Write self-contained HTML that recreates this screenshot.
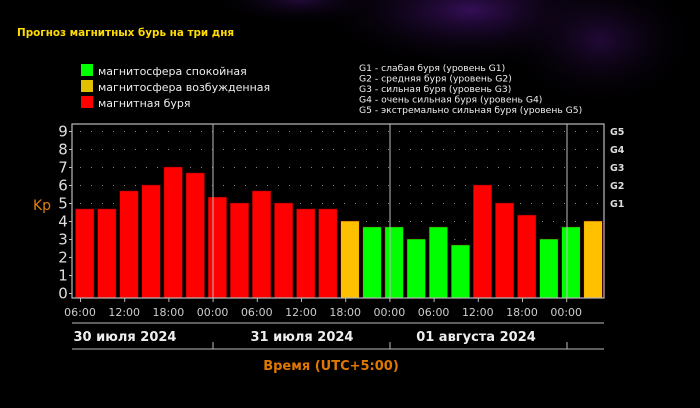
<!DOCTYPE html>
<html><head><meta charset="utf-8"><style>
body{margin:0;width:700px;height:408px;overflow:hidden;background:#000;}
svg{display:block}
text{font-family:"DejaVu Sans","Liberation Sans",sans-serif;}
</style></head><body>
<svg width="700" height="408" viewBox="0 0 700 408" xmlns="http://www.w3.org/2000/svg">
<defs>
<radialGradient id="g1" cx="0.5" cy="0.5" r="0.5"><stop offset="0" stop-color="#3a1060" stop-opacity="0.9"/><stop offset="1" stop-color="#000" stop-opacity="0"/></radialGradient>
<radialGradient id="g2" cx="0.5" cy="0.5" r="0.5"><stop offset="0" stop-color="#2a0c45" stop-opacity="0.8"/><stop offset="1" stop-color="#000" stop-opacity="0"/></radialGradient>
</defs>
<rect width="700" height="408" fill="#000"/>
<ellipse cx="470" cy="10" rx="160" ry="60" fill="url(#g1)"/>
<ellipse cx="600" cy="40" rx="100" ry="70" fill="url(#g2)"/>
<ellipse cx="300" cy="0" rx="90" ry="25" fill="url(#g2)"/>
<text x="17" y="36" font-size="10.4" font-weight="bold" fill="#ffdd00">Прогноз магнитных бурь на три дня</text>
<rect x="81" y="64" width="12" height="12" fill="#00ff00"/>
<rect x="81" y="80" width="12" height="12" fill="#e0c000"/>
<rect x="81" y="96" width="12" height="12" fill="#ff0000"/>
<g font-size="11" fill="#eee">
<text x="98" y="75">магнитосфера спокойная</text>
<text x="98" y="91">магнитосфера возбужденная</text>
<text x="98" y="107">магнитная буря</text>
</g>
<g font-size="9.2" fill="#eee">
<text x="359" y="71">G1 - слабая буря (уровень G1)</text>
<text x="359" y="81.5">G2 - средняя буря (уровень G2)</text>
<text x="359" y="92">G3 - сильная буря (уровень G3)</text>
<text x="359" y="102.5">G4 - очень сильная буря (уровень G4)</text>
<text x="359" y="113">G5 - экстремально сильная буря (уровень G5)</text>
</g>
<g id="grid" fill="#888">
</g>
<g id="bars"></g>
<rect x="72" y="124" width="532" height="174" fill="none" stroke="#bbb" stroke-width="1.2"/>
<line x1="213" y1="124" x2="213" y2="298" stroke="#bbb"/>
<line x1="390" y1="124" x2="390" y2="298" stroke="#bbb"/>
<line x1="567" y1="124" x2="567" y2="298" stroke="#bbb"/>
<g font-size="15" fill="#ddd" text-anchor="middle" id="ylab"></g>
<text x="42" y="210" font-size="14" fill="#e08000" text-anchor="middle">Kp</text>
<g font-size="9.5" font-weight="bold" fill="#ddd">
<text x="610" y="135">G5</text><text x="610" y="153">G4</text><text x="610" y="171">G3</text><text x="610" y="189">G2</text><text x="610" y="207">G1</text>
</g>
<g font-size="11" fill="#ccc" text-anchor="middle" id="xlab"></g>
<line x1="72" y1="323" x2="604" y2="323" stroke="#bbb"/>
<line x1="72" y1="349" x2="604" y2="349" stroke="#bbb"/>
<g stroke="#bbb"><line x1="213" y1="342" x2="213" y2="349"/><line x1="390" y1="342" x2="390" y2="349"/><line x1="567" y1="342" x2="567" y2="349"/></g>
<g font-size="13" font-weight="bold" fill="#eee" text-anchor="middle">
<text x="125" y="341">30 июля 2024</text>
<text x="302" y="341">31 июля 2024</text>
<text x="476" y="341">01 августа 2024</text>
</g>
<text x="331" y="370" font-size="13" font-weight="bold" fill="#e07800" text-anchor="middle">Время (UTC+5:00)</text>
</svg>
<script>
const NS="http://www.w3.org/2000/svg";
function el(p,t,a,txt){const e=document.createElementNS(NS,t);for(const k in a)e.setAttribute(k,a[k]);if(txt)e.textContent=txt;document.getElementById(p).appendChild(e);}
const y0=293,u=18;
for(let v=0;v<=9;v++){const y=y0-v*u;for(let x=80;x<604;x+=11)el("grid","rect",{x:x,y:y,width:1,height:1});
el("ylab","text",{x:63,y:y+5.5},String(v));el("grid","rect",{x:69,y:y,width:3,height:1,fill:"#bbb"});}
const vals=[4.67,4.67,5.67,6,7,6.67,5.33,5,5.67,5,4.67,4.67,4,3.67,3.67,3,3.67,2.67,6,5,4.33,3,3.67,4];
const cols="RRRRRRRRRRRROGGGGGRRRGGO";
const cm={R:"#ff0000",G:"#00ff00",O:"#ffc000"};
vals.forEach((v,i)=>{const x=75.5+22.1*i,h=v*u;el("bars","rect",{x:x,y:293-h,width:18.5,height:h+5,fill:cm[cols[i]],stroke:"#600",'stroke-width':0.5});});
const labs=["06:00","12:00","18:00","00:00"];
for(let k=0;k<12;k++){const x=80+44.2*k;el("xlab","text",{x:x,y:316},labs[k%4]);el("grid","rect",{x:x,y:298,width:1,height:4,fill:"#bbb"});}
</script>
</body></html>
